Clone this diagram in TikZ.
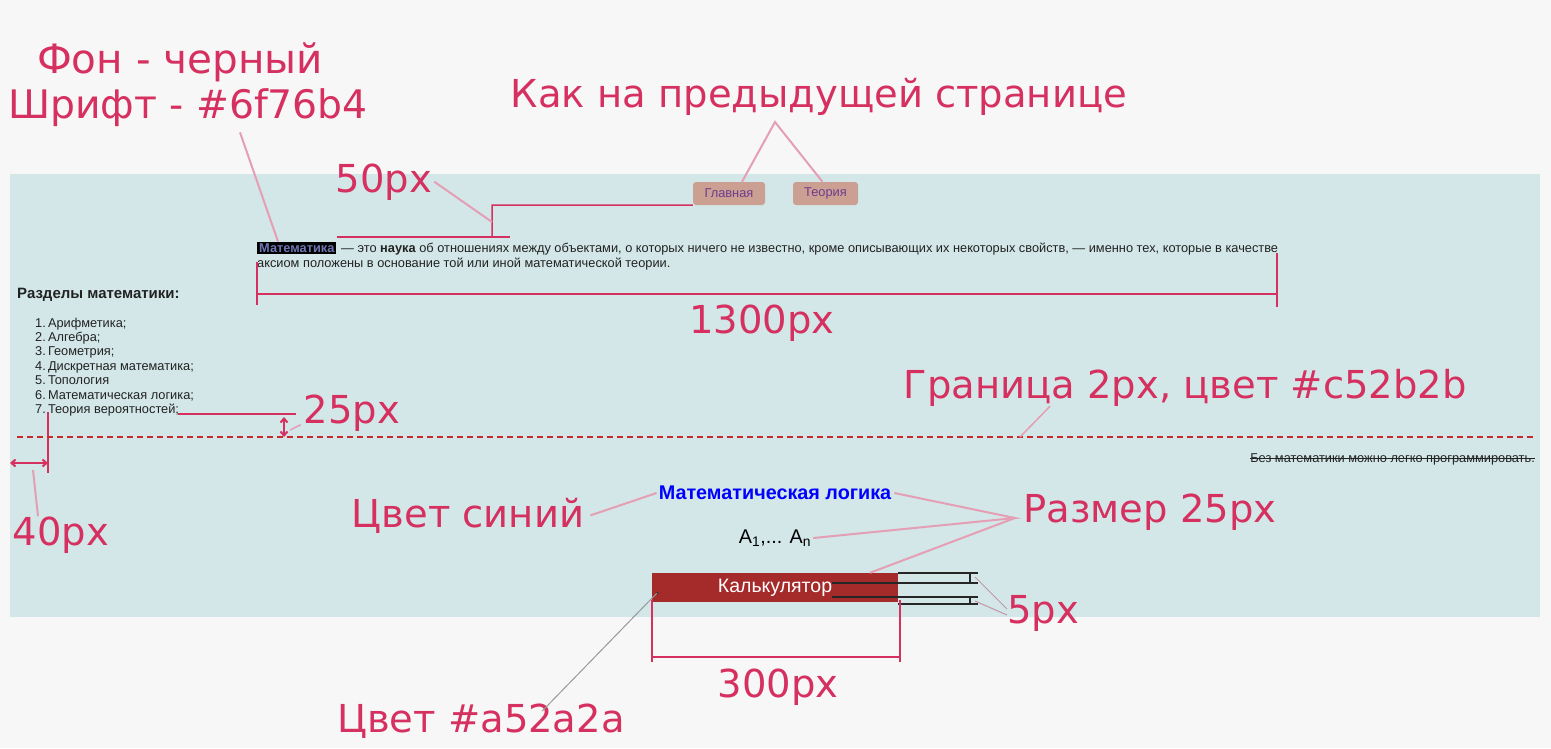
\documentclass[tikz,border=0pt]{standalone}
\usepackage{fontspec}
\setmainfont{Liberation Sans}
\newfontfamily\annofont{DejaVu Sans}
\usetikzlibrary{arrows.meta}
\definecolor{pagegray}{HTML}{F7F7F7}
\definecolor{panelteal}{HTML}{D3E7E8}
\definecolor{notered}{HTML}{D5305F}
\definecolor{notepink}{HTML}{E49FB4}
\definecolor{brickred}{HTML}{A52A2A}
\definecolor{borderred}{HTML}{C52B2B}
\definecolor{btnrose}{HTML}{CBA093}
\definecolor{btnviolet}{HTML}{6E3C8C}
\definecolor{termblue}{HTML}{6F76B4}
\definecolor{inkdark}{HTML}{222222}

\begin{document}
\begin{tikzpicture}[x=1pt, y=-1pt,
  note/.style={text=notered, font=\annofont\fontsize{38.5}{42}\selectfont, inner sep=0pt, anchor=base},
  lead/.style={notepink, line width=2pt},
  dim/.style={notered, line width=2pt},
  dimarrow/.style={dim, {Straight Barb[length=4pt,width=7pt]}-{Straight Barb[length=4pt,width=7pt]}},
  page/.style={text=inkdark, font=\fontsize{12.8}{14}\selectfont, inner sep=0pt, anchor=base west},
  navbtn/.style={fill=btnrose, rounded corners=3pt, text=btnviolet, font=\fontsize{12.8}{14}\selectfont, minimum height=23pt, inner xsep=0pt}]
  \useasboundingbox (0,0) rectangle (1551,748);
  \fill[pagegray] (0,0) rectangle (1551,748);
  \fill[panelteal] (10,174) rectangle (1540,617);

  % page: navigation
  \node[navbtn, minimum width=72pt] (glav) at (729,193.5) {Главная};
  \node[navbtn, minimum width=65pt] (teor) at (825.5,193.5) {Теория};

  % page: definition
  \node[fill=black, text=termblue, font=\bfseries\fontsize{12.8}{14}\selectfont, inner xsep=2pt, inner ysep=1.5pt, anchor=base west] (term) at (257,252) {Математика};
  \node[page] (line1) at (341,252) {— это \textbf{наука} об отношениях между объектами, о которых ничего не известно, кроме описывающих их некоторых свойств, — именно тех, которые в качестве};
  \node[page] (line2) at (257,267) {аксиом положены в основание той или иной математической теории.};

  % page: sections list
  \node[page, font=\bfseries\fontsize{15}{17}\selectfont] (razd) at (17,298) {Разделы математики:};
  \foreach \sect [count=\i] in {Арифметика;, Алгебра;, Геометрия;, Дискретная математика;, Топология, Математическая логика;, Теория вероятностей;}
    \node[page] (sect\i) at (35,{327+14.4*(\i-1)}) {\i.\,\sect};

  % page: lower block
  \node[page, anchor=base east] (strike) at (1535,462) {Без математики можно легко программировать.};
  \draw[inkdark, line width=0.8pt] ([yshift=3.6pt]strike.base west) -- ([yshift=3.6pt]strike.base east);
  \node[text=blue, font=\bfseries\fontsize{19.8}{22}\selectfont, inner sep=0pt] (logic) at (775,493) {Математическая логика};
  \node[font=\fontsize{19.8}{22}\selectfont, inner sep=0pt] (seq) at (775,538) {A\textsubscript{1},... A\textsubscript{n}};
  \node[fill=brickred, minimum width=246pt, minimum height=29pt, text=white, font=\fontsize{19.5}{22}\selectfont, inner sep=0pt] (calc) at (775,587.5) {Калькулятор};
  \draw[black!85, line width=1.5pt] (calc.north east) -- ++(80,0) (832,583) -- (978,583) (970,572) -- (970,583);
  \draw[black!85, line width=1.5pt] (832,597) -- (978,597) ([yshift=-2pt]calc.south east) -- ++(80,0) (970,597) -- (970,604);
  \fill[black!80] (657,593) circle (1.5pt);

  % notes: top
  \node[note, font=\annofont\fontsize{40.5}{44}\selectfont] (fon) at (180,73) {Фон - черный};
  \node[note, font=\annofont\fontsize{39.3}{44}\selectfont] (shrift) at (188,118) {Шрифт - \#6f76b4};
  \draw[lead] ([xshift=52pt,yshift=-6pt]shrift.south) -- ([xshift=21pt]term.north west);
  \node[note] (kak) at (819,107) {Как на предыдущей странице};
  \coordinate (kaktip) at (775,122);
  \draw[lead] ([xshift=13pt]glav.north) -- (kaktip) -- ([xshift=-3pt]teor.north);

  % notes: 50px gap
  \coordinate (gapT) at (492,205);
  \coordinate (gapM) at (492,222);
  \coordinate (gapB) at (492,237);
  \draw[dim, line width=1.5pt] (glav.south west) -- (gapT) -- (gapB);
  \draw[dim, line width=1.5pt] (337,237) -- (510,237);
  \node[note] (n50) at (384,192) {50px};
  \draw[lead] ([xshift=2pt]n50.east) -- (gapM);

  % notes: 1300px width
  \draw[dim] (257,262) -- (257,305);
  \draw[dim] (1277,253) -- (1277,307);
  \draw[dim] (257,294) -- (1277,294);
  \node[note] (n1300) at (762,333) {1300px};

  % notes: 25px and 40px
  \draw[dim] (178,414) -- (296,414);
  \draw[dimarrow] (284,417) -- (284,437);
  \node[note] (n25) at (352,423) {25px};
  \draw[lead, line width=1.5pt] ([xshift=-3pt,yshift=-12pt]n25.west) -- (290,430);
  \draw[dim] (48,412) -- (48,473);
  \draw[dimarrow] (10,463) -- (48,463);
  \node[note] (n40) at (61,545) {40px};
  \draw[lead] ([xshift=-23pt]n40.north) -- (33,470);

  % border
  \draw[borderred, line width=1.5pt, dash pattern=on 6pt off 4pt] (17,437) -- (1535,437);
  \node[note] (bord) at (1185,398) {Граница 2px, цвет \#c52b2b};
  \draw[lead, line width=1.5pt] ([xshift=-135pt]bord.south) -- (1020,437);

  % notes: bottom
  \node[note] (blue) at (468,527) {Цвет синий};
  \draw[lead] ([xshift=6pt]blue.east) -- ([xshift=-2pt]logic.west);
  \node[note] (size) at (1150,522) {Размер 25px};
  \coordinate (sizetip) at (1015,518);
  \draw[lead] ([xshift=3pt]logic.east) -- (sizetip) -- ([xshift=2pt]seq.east);
  \draw[lead] (sizetip) -- ([xshift=95pt]calc.north);
  \node[note] (n5) at (1043,623) {5px};
  \draw[notepink!70!gray, line width=1pt] ([yshift=4pt]n5.west) -- (975,577);
  \draw[notepink!70!gray, line width=1pt] ([yshift=-2pt]n5.west) -- (975,601);
  \draw[dim] (652,600) -- (652,662);
  \draw[dim] (900,600) -- (900,662);
  \draw[dim] (652,657) -- (900,657);
  \node[note] (n300) at (778,697) {300px};
  \node[note] (brick) at (481,732) {Цвет \#a52a2a};
  \draw[gray!80, line width=1pt] ([xshift=61pt,yshift=-8pt]brick.north) -- (657,593);
\end{tikzpicture}
\end{document}
